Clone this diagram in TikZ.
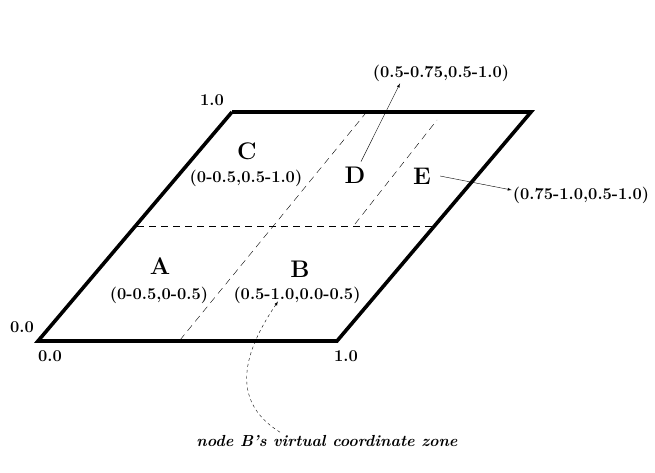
\documentclass[tikz,border=0pt]{standalone}
\usepackage{tikz}
\usetikzlibrary{positioning}
\usepackage{amsmath}

\begin{document}
\begin{tikzpicture}[>=latex,x=1pt,y=-1pt,
        edge/.style={line width=3.6pt,line join=miter},
        zone/.style={dashed,thin,dash pattern=on 7pt off 5pt},
        coord/.style={font=\fontsize{16.5}{18}\bfseries\selectfont,inner sep=1pt},
        letter/.style={font=\fontsize{24}{26}\bfseries\selectfont,inner sep=1pt}]
        \useasboundingbox (0,0) rectangle (655,472);
        % corners of the unit square, drawn skewed
        \coordinate (origin) at (38,341);
        \coordinate (xend) at (337,341);
        \coordinate (yend) at (232,112);
        \coordinate (corner) at (531,112);
        \draw[edge] (yend) -- (origin) -- (xend) -- (corner) -- (yend);
        % zone borders
        \draw[zone] (180,340) -- (365,114);
        \draw[zone] (137,226) -- (434,226);
        \draw[zone] (355,224) -- (437,120);
        % axis values
        \node[coord] (ytop) at (212,100) {1.0};
        \node[coord] (yzero) at (22,327) {0.0};
        \node[coord] (xzero) at (50,356) {0.0};
        \node[coord] (xone) at (346,356) {1.0};
        % zones
        \node[letter] (A) at (160,266) {A};
        \node[coord] (alab) at (159,295) {(0-0.5,0-0.5)};
        \node[letter] (B) at (300,269) {B};
        \node[coord] (blab) at (297,295) {(0.5-1.0,0.0-0.5)};
        \node[letter] (C) at (247,151) {C};
        \node[coord] (clab) at (246,178) {(0-0.5,0.5-1.0)};
        \node[letter] (D) at (355,175) {D};
        \node[coord] (dlab) at (441,73) {(0.5-0.75,0.5-1.0)};
        \node[letter] (E) at (422,176) {E};
        \node[coord] (elab) at (581,195) {(0.75-1.0,0.5-1.0)};
        \node[coord,font=\fontsize{16}{18}\bfseries\itshape\selectfont] (caption) at (327,441) {node B's virtual coordinate zone};
        \draw[->,thin] ([xshift=6pt,yshift=4pt]D.north) -- ([xshift=-41pt,yshift=-1pt]dlab.south);
        \draw[->,thin] ([xshift=8pt]E.east) -- ([yshift=5pt]elab.west);
        \draw[->,thin,dashed] ([xshift=-47pt,yshift=2pt]caption.north) .. controls (228,400) and (245,350) .. ([xshift=-19pt,yshift=3pt]blab.south);
    \end{tikzpicture}
\end{document}
